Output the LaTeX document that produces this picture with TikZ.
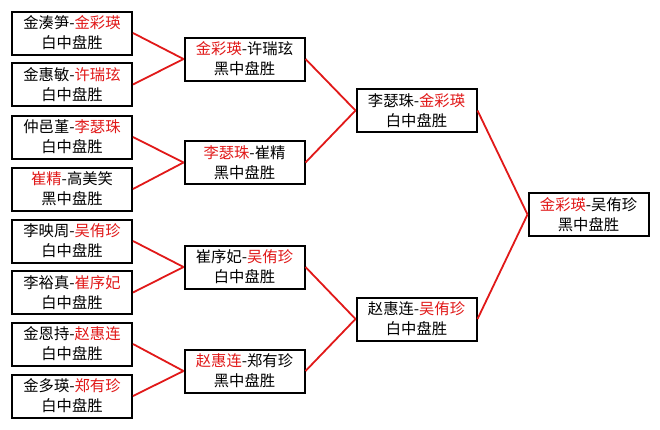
\documentclass[tikz,border=0pt]{standalone}
\usepackage{fontspec}
\setmainfont{Noto Sans CJK SC}
\definecolor{winred}{RGB}{225,25,25}
\newcommand\redtxt[1]{\textcolor{winred}{#1}}
\begin{document}
\begin{tikzpicture}[x=1pt,y=-1pt,
  matchbox/.style={draw=black,line width=2pt,fill=white,minimum width=120pt,minimum height=43pt,
    inner sep=0pt,align=center,font=\fontsize{15.3}{20}\selectfont},
  link/.style={draw=winred,line width=1.8pt}]
\useasboundingbox[fill=white] (0,0) rectangle (660,429);
% column 1
\node[matchbox] (a1) at (72,33)    {金湊笋-\redtxt{金彩瑛}\\白中盘胜};
\node[matchbox] (a2) at (72,84.5)  {金惠敏-\redtxt{许瑞玹}\\白中盘胜};
\node[matchbox] (a3) at (72,137)   {仲邑堇-\redtxt{李瑟珠}\\白中盘胜};
\node[matchbox] (a4) at (72,189)   {\redtxt{崔精}-高美笑\\黑中盘胜};
\node[matchbox] (a5) at (72,241)   {李映周-\redtxt{吴侑珍}\\白中盘胜};
\node[matchbox] (a6) at (72,292.5) {李裕真-\redtxt{崔序妃}\\白中盘胜};
\node[matchbox] (a7) at (72,344)   {金恩持-\redtxt{赵惠连}\\白中盘胜};
\node[matchbox] (a8) at (72,396)   {金多瑛-\redtxt{郑有珍}\\白中盘胜};
% column 2
\node[matchbox] (b1) at (244.5,59)  {\redtxt{金彩瑛}-许瑞玹\\黑中盘胜};
\node[matchbox] (b2) at (244.5,162.5) {\redtxt{李瑟珠}-崔精\\黑中盘胜};
\node[matchbox] (b3) at (244.5,267) {崔序妃-\redtxt{吴侑珍}\\白中盘胜};
\node[matchbox] (b4) at (244.5,371) {\redtxt{赵惠连}-郑有珍\\黑中盘胜};
% column 3
\node[matchbox] (c1) at (416.5,110.5) {李瑟珠-\redtxt{金彩瑛}\\白中盘胜};
\node[matchbox] (c2) at (416.5,319)   {赵惠连-\redtxt{吴侑珍}\\白中盘胜};
% column 4
\node[matchbox] (d1) at (588.5,214.5) {\redtxt{金彩瑛}-吴侑珍\\黑中盘胜};
% connectors
\draw[link] (a1.east) -- (b1.west);
\draw[link] (a2.east) -- (b1.west);
\draw[link] (a3.east) -- (b2.west);
\draw[link] (a4.east) -- (b2.west);
\draw[link] (a5.east) -- (b3.west);
\draw[link] (a6.east) -- (b3.west);
\draw[link] (a7.east) -- (b4.west);
\draw[link] (a8.east) -- (b4.west);
\draw[link] (b1.east) -- (c1.west);
\draw[link] (b2.east) -- (c1.west);
\draw[link] (b3.east) -- (c2.west);
\draw[link] (b4.east) -- (c2.west);
\draw[link] (c1.east) -- (d1.west);
\draw[link] (c2.east) -- (d1.west);
\end{tikzpicture}
\end{document}
